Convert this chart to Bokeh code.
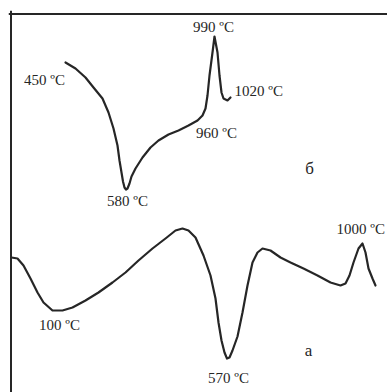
from bokeh.plotting import figure
from bokeh.models import Range1d, Span
from bokeh.core.properties import value
from bokeh.embed import file_html
from bokeh.resources import INLINE

H = 392  # vertical reference used to flip traced positions (measured from the top)

# Curve б (upper), traced positions
b_x = [65, 75, 85, 93, 102, 108, 113, 117, 119, 121, 122.5, 124, 125.5, 127, 129, 131,
       135, 142, 150, 158, 168, 178, 188, 197, 202, 205, 207, 209, 212, 214, 217, 219,
       221, 223, 227, 230]
b_yt = [62, 68, 77, 87, 98, 112, 128, 145, 160, 172, 181, 187, 189, 188, 183, 176,
        168, 157, 147, 140, 134, 130, 125, 120, 115, 108, 95, 75, 52, 36, 52, 75,
        92, 98, 100, 97]

# Curve а (lower), traced positions
a_x = [11, 17, 23, 30, 37, 43, 52, 62, 72, 85, 98, 112, 125, 138, 152, 165, 175, 182,
       188, 195, 203, 210, 215, 218, 221, 224, 226.5, 229, 232, 237, 242, 247, 252, 257,
       262, 270, 280, 290, 303, 317, 330, 340, 345, 349, 353, 358, 362, 365, 368, 372, 375]
a_yt = [257, 258, 265, 278, 292, 302, 310, 310, 307, 300, 292, 282, 272, 260, 248, 238,
        230, 228, 230, 237, 255, 275, 298, 322, 340, 352, 358, 357, 350, 336, 312, 285,
        262, 252, 248, 250, 257, 262, 268, 275, 282, 285, 283, 275, 262, 248, 243, 252,
        268, 278, 285]

b_y = [H - v for v in b_yt]
a_y = [H - v for v in a_yt]

label_text = ["450 ºC", "990 ºC", "960 ºC", "580 ºC", "100 ºC", "570 ºC"]
label_x = [44, 213, 216, 127, 59, 228]
label_yt = [79, 26, 132, 200, 324, 377]
label_y = [H - v for v in label_yt]

letter_text = ["б", "а"]
letter_x = [309, 308]
letter_yt = [168, 350]
letter_y = [H - v for v in letter_yt]

left_text = ["1020 ºC", "1000 ºC"]
left_x = [234, 336]
left_yt = [90, 228]
left_y = [H - v for v in left_yt]

INK = "#262626"

p = figure(width=387, height=392, output_backend="svg", toolbar_location=None,
           x_range=Range1d(8, 387), y_range=Range1d(0, H - 10),
           min_border_left=8, min_border_top=10, min_border_right=0, min_border_bottom=0,
           x_axis_location=None, y_axis_location=None)
p.grid.visible = False
p.outline_line_color = None
p.background_fill_color = "white"
p.border_fill_color = "white"

# scanned frame: left and top edges
p.add_layout(Span(location=10.5, dimension="height", line_color=INK, line_width=2))
p.add_layout(Span(location=H - 13.5, dimension="width", line_color=INK, line_width=2))

p.line(b_x, b_y, line_color=INK, line_width=2.2, line_join="round", line_cap="round")
p.line(a_x, a_y, line_color=INK, line_width=2.2, line_join="round", line_cap="round")

p.text(label_x, label_y, text=label_text, text_align="center", text_baseline="middle",
       text_font=value("Liberation Serif"), text_font_size="15px", text_color=INK)
p.text(left_x, left_y, text=left_text, text_align="left", text_baseline="middle",
       text_font=value("Liberation Serif"), text_font_size="15px", text_color=INK)
p.text(letter_x, letter_y, text=letter_text, text_align="center", text_baseline="middle",
       text_font=value("Liberation Serif"), text_font_size="17px", text_color=INK)

open("out.html", "w").write(file_html(p, INLINE))
